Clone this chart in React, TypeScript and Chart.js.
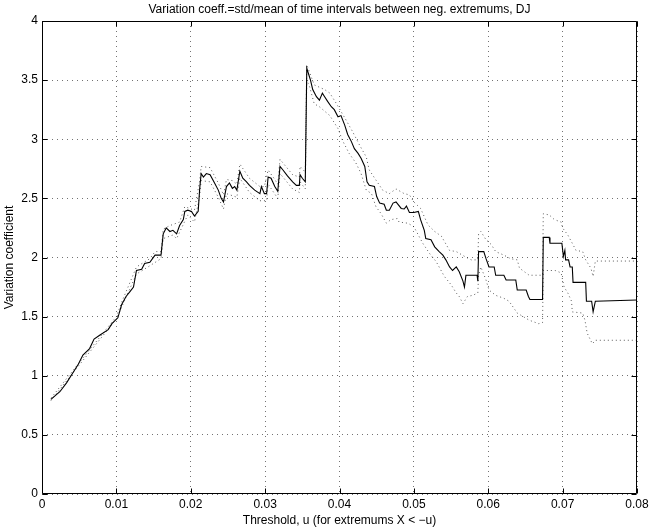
import React, { useEffect, useRef } from 'react';
import { Chart, registerables } from 'chart.js';

Chart.register(...registerables);

const chartTitle = 'Variation coeff.=std/mean of time intervals between neg. extremums, DJ';
const xAxisTitle = 'Threshold, u (for extremums X < \u2212u)';
const yAxisTitle = 'Variation coefficient';

const xTicks = [0, 0.01, 0.02, 0.03, 0.04, 0.05, 0.06, 0.07, 0.08];
const yTicks = [0, 0.5, 1, 1.5, 2, 2.5, 3, 3.5, 4];

const mainX = [
  0.0012, 0.0024, 0.0033, 0.0042, 0.0049, 0.0055, 0.0064, 0.0070, 0.0078, 0.0089,
  0.0094, 0.0102, 0.0107, 0.0113, 0.0118, 0.0123, 0.0127, 0.0134, 0.0138, 0.0145,
  0.0152, 0.0160, 0.0163, 0.0167, 0.0172, 0.0176, 0.0181, 0.0185, 0.0190, 0.0192,
  0.0196, 0.0201, 0.0205, 0.0210, 0.0212, 0.0214, 0.0217, 0.0221, 0.0226, 0.0232,
  0.0237, 0.0241, 0.0244, 0.0248, 0.0252, 0.0256, 0.0259, 0.0262, 0.0266, 0.0270,
  0.0275, 0.0279, 0.0286, 0.0293, 0.0295, 0.0299, 0.0302, 0.0304, 0.0308, 0.0313,
  0.0317, 0.0320, 0.0324, 0.0330, 0.0337, 0.0342, 0.0346, 0.0347, 0.0350, 0.0354,
  0.0356, 0.0358, 0.0361, 0.0364, 0.0369, 0.0373, 0.0377, 0.0380, 0.0384, 0.0389,
  0.0393, 0.0398, 0.0402, 0.0407, 0.0411, 0.0416, 0.0420, 0.0425, 0.0429, 0.0434,
  0.0437, 0.0440, 0.0447, 0.0450, 0.0454, 0.0460, 0.0463, 0.0467, 0.0472, 0.0476,
  0.0483, 0.0487, 0.0490, 0.0494, 0.0500, 0.0506, 0.0509, 0.0514, 0.0516, 0.0523,
  0.0528, 0.0534, 0.0539, 0.0543, 0.0548, 0.0552, 0.0557, 0.0561, 0.0566, 0.0568,
  0.0570, 0.0585, 0.0586, 0.0587, 0.0594, 0.0597, 0.0601, 0.0608, 0.0610, 0.0621,
  0.0624, 0.0637, 0.0639, 0.0651, 0.0654, 0.0656, 0.0673, 0.0674, 0.0682, 0.0683,
  0.0699, 0.0701, 0.0703, 0.0704, 0.0708, 0.0710, 0.0713, 0.0714, 0.0731, 0.0732,
  0.0739, 0.0741, 0.0744, 0.0800,
];
const mainY = [
  0.80, 0.865, 0.94, 1.03, 1.10, 1.175, 1.23, 1.31, 1.345, 1.39,
  1.44, 1.49, 1.60, 1.67, 1.71, 1.75, 1.89, 1.90, 1.95, 1.96,
  2.02, 2.02, 2.20, 2.25, 2.22, 2.23, 2.20, 2.27, 2.32, 2.39,
  2.40, 2.39, 2.35, 2.39, 2.58, 2.71, 2.68, 2.71, 2.70, 2.63,
  2.57, 2.50, 2.47, 2.60, 2.63, 2.585, 2.60, 2.57, 2.73, 2.67,
  2.64, 2.61, 2.57, 2.54, 2.60, 2.54, 2.54, 2.68, 2.67, 2.60,
  2.56, 2.77, 2.74, 2.69, 2.64, 2.61, 2.61, 2.70, 2.67, 2.64,
  3.60, 3.56, 3.50, 3.42, 3.36, 3.33, 3.39, 3.36, 3.32, 3.275,
  3.25, 3.19, 3.20, 3.12, 3.04, 2.98, 2.92, 2.88, 2.84, 2.77,
  2.64, 2.61, 2.60, 2.515, 2.46, 2.45, 2.40, 2.40, 2.46, 2.47,
  2.415, 2.41, 2.435, 2.38, 2.38, 2.39, 2.32, 2.23, 2.16, 2.15,
  2.09, 2.05, 2.02, 1.98, 1.92, 1.89, 1.92, 1.88, 1.80, 1.75,
  1.85, 1.85, 1.80, 2.05, 2.05, 1.99, 1.92, 1.92, 1.85, 1.85,
  1.81, 1.81, 1.725, 1.725, 1.67, 1.645, 1.645, 2.17, 2.17, 2.12,
  2.12, 2.01, 2.06, 1.98, 1.98, 1.92, 1.92, 1.79, 1.79, 1.63,
  1.63, 1.54, 1.63, 1.64,
];

const upperX = [
  0.0012, 0.0050, 0.0100, 0.0107, 0.0127, 0.0145, 0.0152, 0.0160, 0.0163, 0.0172,
  0.0185, 0.0192, 0.0205, 0.0212, 0.0214, 0.0226, 0.0237, 0.0244, 0.0248, 0.0256,
  0.0262, 0.0266, 0.0279, 0.0293, 0.0299, 0.0304, 0.0313, 0.0317, 0.0320, 0.0337,
  0.0346, 0.0347, 0.0354, 0.0356, 0.0366, 0.0380, 0.0387, 0.0396, 0.0409, 0.0418,
  0.0427, 0.0436, 0.0440, 0.0449, 0.0458, 0.0467, 0.0476, 0.0487, 0.0494, 0.0500,
  0.0509, 0.0519, 0.0528, 0.0537, 0.0548, 0.0557, 0.0568, 0.0577, 0.0586, 0.0587,
  0.0590, 0.0597, 0.0604, 0.0610, 0.0621, 0.0630, 0.0639, 0.0642, 0.0655, 0.0673,
  0.0674, 0.0682, 0.0689, 0.0698, 0.0700, 0.0707, 0.0713, 0.0718, 0.0727, 0.0731,
  0.0738, 0.0741, 0.0744, 0.0800,
];
const upperY = [
  0.81, 1.11, 1.50, 1.62, 1.92, 1.99, 2.05, 2.05, 2.24, 2.27,
  2.30, 2.43, 2.40, 2.65, 2.77, 2.76, 2.63, 2.53, 2.66, 2.65,
  2.62, 2.79, 2.67, 2.60, 2.60, 2.74, 2.66, 2.62, 2.83, 2.70,
  2.68, 2.77, 2.72, 3.63, 3.46, 3.42, 3.39, 3.30, 3.16, 3.06,
  2.95, 2.85, 2.74, 2.655, 2.57, 2.54, 2.58, 2.54, 2.53, 2.47,
  2.415, 2.275, 2.22, 2.18, 2.06, 2.05, 2.01, 1.98, 1.98, 2.20,
  2.22, 2.15, 2.11, 2.05, 2.02, 1.99, 1.98, 1.91, 1.85, 1.85,
  2.37, 2.36, 2.32, 2.30, 2.25, 2.19, 2.12, 2.06, 2.05, 1.98,
  1.91, 1.84, 1.97, 1.97,
];

const lowerX = [
  0.0012, 0.0050, 0.0100, 0.0107, 0.0127, 0.0145, 0.0160, 0.0163, 0.0176, 0.0181,
  0.0190, 0.0196, 0.0205, 0.0212, 0.0214, 0.0226, 0.0237, 0.0244, 0.0248, 0.0262,
  0.0266, 0.0279, 0.0293, 0.0302, 0.0304, 0.0317, 0.0320, 0.0337, 0.0346, 0.0347,
  0.0354, 0.0356, 0.0360, 0.0366, 0.0373, 0.0387, 0.0391, 0.0398, 0.0404, 0.0413,
  0.0422, 0.0429, 0.0436, 0.0443, 0.0449, 0.0456, 0.0463, 0.0469, 0.0478, 0.0480,
  0.0492, 0.0500, 0.0512, 0.0521, 0.0530, 0.0541, 0.0550, 0.0557, 0.0561, 0.0566,
  0.0572, 0.0579, 0.0586, 0.0587, 0.0590, 0.0597, 0.0601, 0.0610, 0.0621, 0.0628,
  0.0639, 0.0655, 0.0668, 0.0673, 0.0674, 0.0690, 0.0698, 0.0702, 0.0707, 0.0712,
  0.0713, 0.0727, 0.0730, 0.0733, 0.0740, 0.0744, 0.0800,
];
const lowerY = [
  0.79, 1.09, 1.48, 1.58, 1.86, 1.93, 1.99, 2.16, 2.19, 2.16,
  2.28, 2.36, 2.30, 2.52, 2.65, 2.64, 2.51, 2.41, 2.54, 2.51,
  2.67, 2.55, 2.48, 2.48, 2.62, 2.50, 2.71, 2.58, 2.55, 2.64,
  2.58, 3.50, 3.44, 3.30, 3.275, 3.20, 3.16, 3.09, 2.99, 2.88,
  2.80, 2.71, 2.57, 2.54, 2.43, 2.37, 2.29, 2.32, 2.33, 2.30,
  2.29, 2.26, 2.12, 2.035, 1.965, 1.84, 1.77, 1.70, 1.67, 1.61,
  1.67, 1.68, 1.70, 1.85, 1.92, 1.81, 1.725, 1.68, 1.655, 1.63,
  1.53, 1.47, 1.44, 1.45, 1.89, 1.89, 1.87, 1.75, 1.70, 1.63,
  1.54, 1.53, 1.47, 1.36, 1.27, 1.30, 1.30,
];

const toPoints = (xs: number[], ys: number[]) => xs.map((x, i) => ({ x, y: ys[i] }));

const FONT = 'Liberation Sans, Arial, Helvetica, sans-serif';

const framePlugin = {
  id: 'matlabFrame',
  afterDraw(chart: any) {
    const { ctx, chartArea: a, scales } = chart;
    const L = 5;
    ctx.save();
    ctx.strokeStyle = '#000';
    ctx.lineWidth = 1;
    const left = Math.round(a.left) + 0.5;
    const right = Math.round(a.right) - 0.5;
    const top = Math.round(a.top) + 0.5;
    const bottom = Math.round(a.bottom) - 0.5;
    ctx.beginPath();
    ctx.rect(left, top, right - left, bottom - top);
    xTicks.forEach((v) => {
      const px = Math.round(scales.x.getPixelForValue(v)) + 0.5;
      ctx.moveTo(px, bottom);
      ctx.lineTo(px, bottom - L);
      ctx.moveTo(px, top);
      ctx.lineTo(px, top + L);
    });
    yTicks.forEach((v) => {
      const py = Math.round(scales.y.getPixelForValue(v)) + 0.5;
      ctx.moveTo(left, py);
      ctx.lineTo(left + L, py);
      ctx.moveTo(right, py);
      ctx.lineTo(right - L, py);
    });
    ctx.stroke();
    // title centred over the plot area
    ctx.fillStyle = '#000';
    ctx.font = '12px ' + FONT;
    ctx.textAlign = 'center';
    ctx.textBaseline = 'middle';
    ctx.fillText(chartTitle, (a.left + a.right) / 2, 10);
    ctx.restore();
  },
};

export default function App() {
  const ref = useRef<HTMLCanvasElement>(null);

  useEffect(() => {
    if (!ref.current) return;
    const chart = new Chart(ref.current, {
      type: 'line',
      data: {
        datasets: [
          {
            data: toPoints(upperX, upperY),
            borderColor: 'rgba(0,0,0,0.65)',
            borderWidth: 1,
            borderDash: [1, 3],
            pointRadius: 0,
            tension: 0,
          },
          {
            data: toPoints(lowerX, lowerY),
            borderColor: 'rgba(0,0,0,0.65)',
            borderWidth: 1,
            borderDash: [1, 3],
            pointRadius: 0,
            tension: 0,
          },
          {
            data: toPoints(mainX, mainY),
            borderColor: '#000',
            borderWidth: 1.1,
            pointRadius: 0,
            tension: 0,
          },
        ],
      },
      options: {
        animation: false,
        responsive: false,
        events: [],
        layout: { padding: { left: 0, right: 17, top: 21, bottom: 0 } },
        plugins: {
          legend: { display: false },
          tooltip: { enabled: false },
          title: { display: false },
        },
        scales: {
          x: {
            type: 'linear',
            min: 0,
            max: 0.08,
            afterBuildTicks: (scale: any) => {
              scale.ticks = xTicks.map((v) => ({ value: v }));
            },
            afterFit: (scale: any) => {
              scale.height = 36;
            },
            ticks: {
              color: '#000',
              font: { family: FONT, size: 12 },
              padding: 3,
              maxRotation: 0,
              autoSkip: false,
              callback: (v: any) => String(Number(Number(v).toFixed(3))),
            },
            grid: {
              color: 'rgba(0,0,0,0.55)',
              drawTicks: false,
              lineWidth: 1,
            },
            border: { display: false, dash: [1, 4] },
            title: {
              display: true,
              text: xAxisTitle,
              color: '#000',
              font: { family: FONT, size: 12 },
              padding: { top: 0, bottom: 2 },
            },
          },
          y: {
            type: 'linear',
            min: 0,
            max: 4,
            afterBuildTicks: (scale: any) => {
              scale.ticks = yTicks.map((v) => ({ value: v }));
            },
            afterFit: (scale: any) => {
              scale.width = 42;
            },
            ticks: {
              color: '#000',
              font: { family: FONT, size: 12 },
              padding: 4,
              autoSkip: false,
              callback: (v: any) => String(Number(Number(v).toFixed(2))),
            },
            grid: {
              color: 'rgba(0,0,0,0.55)',
              drawTicks: false,
              lineWidth: 1,
            },
            border: { display: false, dash: [1, 4] },
            title: {
              display: true,
              text: yAxisTitle,
              color: '#000',
              font: { family: FONT, size: 12 },
              padding: { top: 2, bottom: 0 },
            },
          },
        },
      },
      plugins: [framePlugin],
    } as any);
    return () => chart.destroy();
  }, []);

  return (
    <div style={{ position: 'fixed', left: 0, top: 0, width: 654, height: 530, background: '#fff' }}>
      <canvas ref={ref} width={654} height={530} style={{ width: 654, height: 530 }} />
    </div>
  );
}
